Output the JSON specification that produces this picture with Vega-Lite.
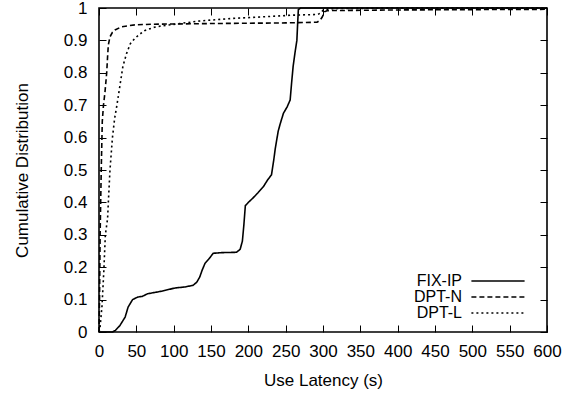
{
  "$schema": "https://vega.github.io/schema/vega-lite/v6.json",
  "width": 448,
  "height": 324,
  "autosize": {"type": "none"},
  "padding": {"left": 99, "top": 8, "right": 33, "bottom": 62},
  "background": "white",
  "config": {
    "font": "Liberation Sans",
    "view": {"stroke": "#000", "strokeWidth": 1.6},
    "axis": {
      "domain": false,
      "grid": false,
      "tickColor": "#000",
      "tickWidth": 1,
      "tickSize": -7,
      "labelColor": "#000",
      "labelFontSize": 17,
      "labelOverlap": false,
      "labelFlush": false,
      "titleColor": "#000",
      "titleFontSize": 17,
      "titleFontWeight": "normal"
    }
  },
  "datasets": {
    "cdf": [
      {"series": "FIX-IP", "latency": 0, "cdf": 0},
      {"series": "FIX-IP", "latency": 18, "cdf": 0},
      {"series": "FIX-IP", "latency": 22, "cdf": 0.005},
      {"series": "FIX-IP", "latency": 28, "cdf": 0.02},
      {"series": "FIX-IP", "latency": 35, "cdf": 0.046},
      {"series": "FIX-IP", "latency": 39, "cdf": 0.077},
      {"series": "FIX-IP", "latency": 45, "cdf": 0.1},
      {"series": "FIX-IP", "latency": 52, "cdf": 0.108},
      {"series": "FIX-IP", "latency": 58, "cdf": 0.11},
      {"series": "FIX-IP", "latency": 65, "cdf": 0.118},
      {"series": "FIX-IP", "latency": 84, "cdf": 0.126},
      {"series": "FIX-IP", "latency": 102, "cdf": 0.136},
      {"series": "FIX-IP", "latency": 115, "cdf": 0.139},
      {"series": "FIX-IP", "latency": 126, "cdf": 0.144},
      {"series": "FIX-IP", "latency": 131, "cdf": 0.154},
      {"series": "FIX-IP", "latency": 135, "cdf": 0.17},
      {"series": "FIX-IP", "latency": 138, "cdf": 0.19},
      {"series": "FIX-IP", "latency": 142, "cdf": 0.212},
      {"series": "FIX-IP", "latency": 147, "cdf": 0.225},
      {"series": "FIX-IP", "latency": 153, "cdf": 0.243},
      {"series": "FIX-IP", "latency": 165, "cdf": 0.245},
      {"series": "FIX-IP", "latency": 184, "cdf": 0.246},
      {"series": "FIX-IP", "latency": 189, "cdf": 0.255},
      {"series": "FIX-IP", "latency": 192, "cdf": 0.28},
      {"series": "FIX-IP", "latency": 194, "cdf": 0.33},
      {"series": "FIX-IP", "latency": 196, "cdf": 0.39},
      {"series": "FIX-IP", "latency": 200, "cdf": 0.4},
      {"series": "FIX-IP", "latency": 206, "cdf": 0.413},
      {"series": "FIX-IP", "latency": 213, "cdf": 0.43},
      {"series": "FIX-IP", "latency": 220, "cdf": 0.448},
      {"series": "FIX-IP", "latency": 226, "cdf": 0.47},
      {"series": "FIX-IP", "latency": 231, "cdf": 0.485},
      {"series": "FIX-IP", "latency": 234, "cdf": 0.53},
      {"series": "FIX-IP", "latency": 236, "cdf": 0.565},
      {"series": "FIX-IP", "latency": 240, "cdf": 0.62},
      {"series": "FIX-IP", "latency": 243, "cdf": 0.645},
      {"series": "FIX-IP", "latency": 247, "cdf": 0.675},
      {"series": "FIX-IP", "latency": 252, "cdf": 0.695},
      {"series": "FIX-IP", "latency": 256, "cdf": 0.716},
      {"series": "FIX-IP", "latency": 258, "cdf": 0.77},
      {"series": "FIX-IP", "latency": 260, "cdf": 0.82},
      {"series": "FIX-IP", "latency": 263, "cdf": 0.87},
      {"series": "FIX-IP", "latency": 265, "cdf": 0.9},
      {"series": "FIX-IP", "latency": 266, "cdf": 0.95},
      {"series": "FIX-IP", "latency": 267, "cdf": 0.995},
      {"series": "FIX-IP", "latency": 270, "cdf": 1.0},
      {"series": "FIX-IP", "latency": 600, "cdf": 1.0},
      {"series": "DPT-N", "latency": 0, "cdf": 0},
      {"series": "DPT-N", "latency": 0.7, "cdf": 0.1},
      {"series": "DPT-N", "latency": 1.5, "cdf": 0.3},
      {"series": "DPT-N", "latency": 3, "cdf": 0.5},
      {"series": "DPT-N", "latency": 4.4, "cdf": 0.65},
      {"series": "DPT-N", "latency": 6, "cdf": 0.7},
      {"series": "DPT-N", "latency": 8, "cdf": 0.74},
      {"series": "DPT-N", "latency": 10.3, "cdf": 0.8},
      {"series": "DPT-N", "latency": 11.5, "cdf": 0.85},
      {"series": "DPT-N", "latency": 12.5, "cdf": 0.886},
      {"series": "DPT-N", "latency": 14.7, "cdf": 0.911},
      {"series": "DPT-N", "latency": 18, "cdf": 0.925},
      {"series": "DPT-N", "latency": 21.4, "cdf": 0.932},
      {"series": "DPT-N", "latency": 30, "cdf": 0.942},
      {"series": "DPT-N", "latency": 48, "cdf": 0.948},
      {"series": "DPT-N", "latency": 73, "cdf": 0.95},
      {"series": "DPT-N", "latency": 150, "cdf": 0.952},
      {"series": "DPT-N", "latency": 250, "cdf": 0.954},
      {"series": "DPT-N", "latency": 292, "cdf": 0.956},
      {"series": "DPT-N", "latency": 296, "cdf": 0.962},
      {"series": "DPT-N", "latency": 299, "cdf": 0.972},
      {"series": "DPT-N", "latency": 302, "cdf": 0.988},
      {"series": "DPT-N", "latency": 306, "cdf": 0.992},
      {"series": "DPT-N", "latency": 400, "cdf": 0.994},
      {"series": "DPT-N", "latency": 600, "cdf": 0.996},
      {"series": "DPT-L", "latency": 0, "cdf": 0},
      {"series": "DPT-L", "latency": 1.5, "cdf": 0.016},
      {"series": "DPT-L", "latency": 4, "cdf": 0.08},
      {"series": "DPT-L", "latency": 6.5, "cdf": 0.19},
      {"series": "DPT-L", "latency": 8.5, "cdf": 0.3},
      {"series": "DPT-L", "latency": 11.5, "cdf": 0.35},
      {"series": "DPT-L", "latency": 12.5, "cdf": 0.4},
      {"series": "DPT-L", "latency": 14.7, "cdf": 0.5},
      {"series": "DPT-L", "latency": 18, "cdf": 0.6},
      {"series": "DPT-L", "latency": 21, "cdf": 0.66},
      {"series": "DPT-L", "latency": 24, "cdf": 0.7},
      {"series": "DPT-L", "latency": 28, "cdf": 0.76},
      {"series": "DPT-L", "latency": 32, "cdf": 0.82},
      {"series": "DPT-L", "latency": 37, "cdf": 0.86},
      {"series": "DPT-L", "latency": 42, "cdf": 0.89},
      {"series": "DPT-L", "latency": 48, "cdf": 0.906},
      {"series": "DPT-L", "latency": 55, "cdf": 0.92},
      {"series": "DPT-L", "latency": 61, "cdf": 0.93},
      {"series": "DPT-L", "latency": 73, "cdf": 0.94},
      {"series": "DPT-L", "latency": 82, "cdf": 0.944},
      {"series": "DPT-L", "latency": 108, "cdf": 0.952},
      {"series": "DPT-L", "latency": 135, "cdf": 0.96},
      {"series": "DPT-L", "latency": 180, "cdf": 0.968},
      {"series": "DPT-L", "latency": 230, "cdf": 0.974},
      {"series": "DPT-L", "latency": 260, "cdf": 0.978},
      {"series": "DPT-L", "latency": 293, "cdf": 0.98},
      {"series": "DPT-L", "latency": 297, "cdf": 0.985},
      {"series": "DPT-L", "latency": 300, "cdf": 0.993},
      {"series": "DPT-L", "latency": 310, "cdf": 0.998},
      {"series": "DPT-L", "latency": 400, "cdf": 1.0},
      {"series": "DPT-L", "latency": 600, "cdf": 1.0}
    ]
  },
  "data": {"name": "cdf"},
  "layer": [
    {
      "mark": {"type": "line", "color": "#000", "strokeWidth": 1.6},
      "encoding": {
        "x": {
          "field": "latency", "type": "quantitative",
          "scale": {"domain": [0, 600], "nice": false, "zero": false},
          "axis": {
            "orient": "bottom",
            "values": [0, 50, 100, 150, 200, 250, 300, 350, 400, 450, 500, 550, 600],
            "labelPadding": 18,
            "title": "Use Latency (s)",
            "titleX": 224, "titleY": 48,
            "titleAlign": "center", "titleBaseline": "middle"
          }
        },
        "y": {
          "field": "cdf", "type": "quantitative",
          "scale": {"domain": [0, 1], "nice": false},
          "axis": {
            "orient": "left",
            "values": [0, 0.1, 0.2, 0.3, 0.4, 0.5, 0.6, 0.7, 0.8, 0.9, 1],
            "format": ".1~f",
            "labelPadding": 19,
            "title": "Cumulative Distribution",
            "titleX": -77, "titleY": 162,
            "titleAlign": "center", "titleBaseline": "middle", "titleAngle": -90
          }
        },
        "strokeDash": {
          "field": "series", "type": "nominal",
          "scale": {"domain": ["FIX-IP", "DPT-N", "DPT-L"], "range": [[1, 0], [5, 3], [2, 3]]},
          "legend": {
            "title": null,
            "orient": "none",
            "legendX": 391,
            "legendY": 265,
            "symbolType": "M-3.8,0H3.8",
            "symbolSize": 196,
            "symbolStrokeColor": "#000",
            "symbolStrokeWidth": 1.4,
            "labelAlign": "right",
            "labelOffset": -44,
            "labelFontSize": 16,
            "labelColor": "#000",
            "rowPadding": -1
          }
        }
      }
    },
    {
      "mark": {"type": "line", "strokeOpacity": 0},
      "encoding": {
        "x": {
          "field": "latency", "type": "quantitative",
          "axis": {
            "orient": "top",
            "values": [0, 50, 100, 150, 200, 250, 300, 350, 400, 450, 500, 550, 600],
            "labels": false, "title": null
          }
        },
        "y": {
          "field": "cdf", "type": "quantitative",
          "axis": {
            "orient": "right",
            "values": [0, 0.1, 0.2, 0.3, 0.4, 0.5, 0.6, 0.7, 0.8, 0.9, 1],
            "labels": false, "title": null
          }
        },
        "detail": {"field": "series"}
      }
    }
  ],
  "resolve": {"axis": {"x": "independent", "y": "independent"}}
}
